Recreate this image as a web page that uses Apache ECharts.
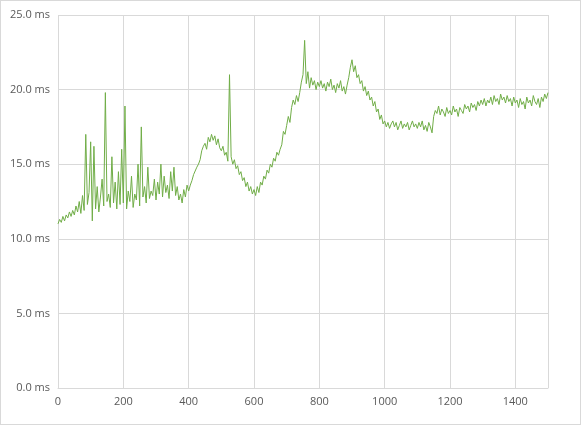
<!DOCTYPE html>
<html>
<head>
<meta charset="utf-8">
<script src="https://cdn.jsdelivr.net/npm/echarts@6/dist/echarts.min.js"></script>
<style>
html,body{margin:0;padding:0;background:#fff;}
#chart{width:581px;height:425px;box-sizing:border-box;border:1px solid #d9d9d9;}
</style>
</head>
<body>
<div id="chart"></div>
<script>
// sample spacing on the x axis
const step = 5;
// latency, one value every 5 units
const latency = [
11.0,11.3,11.1,11.5,11.2,11.6,11.4,11.8,11.5,11.9,11.6,12.2,11.8,12.5,11.7,12.9,11.9,17.0,12.3,13.1,
16.5,11.2,16.2,12.0,13.5,11.8,12.8,14.0,12.2,19.8,12.5,13.0,12.1,15.5,12.4,13.8,12.0,14.5,12.3,16.0,
12.4,18.9,12.0,13.2,12.5,14.2,12.1,13.0,12.6,15.0,12.2,17.5,12.8,13.5,12.4,14.8,12.7,13.2,12.9,14.0,
12.6,13.8,13.0,15.0,12.8,14.2,13.1,13.6,12.7,14.5,13.2,14.8,12.9,13.5,12.6,13.0,12.4,13.3,12.8,13.6,
13.2,13.6,13.9,14.3,14.2,14.8,15.0,15.3,15.9,16.2,16.4,16.0,16.8,16.5,17.0,16.6,16.9,16.3,16.7,16.1,
15.9,16.2,15.6,15.8,15.2,21.0,15.5,15.0,15.3,14.7,14.9,14.3,14.5,13.9,14.1,13.5,13.8,13.2,13.5,13.0,
13.3,12.9,13.5,13.1,13.8,13.6,14.2,14.0,14.6,14.4,15.0,14.8,15.4,15.2,15.8,15.6,16.0,16.3,17.2,17.0,
17.6,18.2,17.8,18.8,19.3,19.0,19.6,19.2,19.8,20.5,21.0,23.3,20.4,21.2,20.1,20.8,20.3,20.6,20.0,20.5,
20.2,20.6,20.1,20.4,19.9,20.5,20.2,20.7,20.0,20.3,19.8,20.4,20.1,20.6,19.9,20.2,19.7,20.3,20.8,21.5,
22.0,21.2,21.6,20.8,21.0,20.4,20.6,19.9,20.2,19.6,19.9,19.3,19.5,18.9,19.2,18.5,18.7,18.0,18.3,17.7,
17.9,17.5,17.8,17.4,17.7,17.9,17.5,17.8,17.3,17.6,17.9,17.4,17.7,17.5,17.8,17.3,17.6,17.9,17.5,17.7,
17.4,17.8,17.5,17.9,17.3,17.6,17.2,17.8,17.5,17.1,18.2,18.6,18.4,18.9,18.3,18.7,18.5,18.2,18.8,18.4,
18.6,18.3,18.9,18.5,18.7,18.2,18.8,18.6,18.4,19.0,18.7,18.9,18.5,19.1,18.8,19.0,18.6,19.2,18.9,19.3,
19.0,19.4,18.9,19.3,19.1,19.5,19.0,19.6,19.2,19.4,19.0,19.7,19.3,19.5,19.1,19.6,19.2,19.4,18.9,19.5,
19.1,19.3,18.8,19.4,19.0,19.2,18.7,19.5,19.1,19.3,18.9,19.6,19.2,19.0,19.4,18.8,19.5,19.2,19.7,19.4,
19.8
];

const myChart = echarts.init(document.getElementById('chart'));
const labelStyle = {color: '#595959', fontSize: 11, fontFamily: 'Open Sans'};
myChart.setOption({
    animation: false,
    grid: {left: 57, right: 32, top: 14, bottom: 36},
    xAxis: {
        type: 'value', min: 0, max: 1500, interval: 200,
        axisLine: {lineStyle: {color: '#d9d9d9'}},
        axisTick: {show: false},
        axisLabel: Object.assign({margin: 8, showMaxLabel: false, formatter: v => String(v)}, labelStyle),
        splitLine: {lineStyle: {color: '#d9d9d9'}}
    },
    yAxis: {
        type: 'value', min: 0, max: 25, interval: 5,
        axisLine: {show: false},
        axisTick: {show: false},
        axisLabel: Object.assign({margin: 8, formatter: v => v.toFixed(1) + ' ms'}, labelStyle),
        splitLine: {lineStyle: {color: '#d9d9d9'}}
    },
    series: [{
        type: 'line',
        data: latency.map((v, i) => [i * step, v]),
        showSymbol: false,
        lineStyle: {color: '#70ad47', width: 1},
        itemStyle: {color: '#70ad47'}
    }]
});
</script>
</body>
</html>
